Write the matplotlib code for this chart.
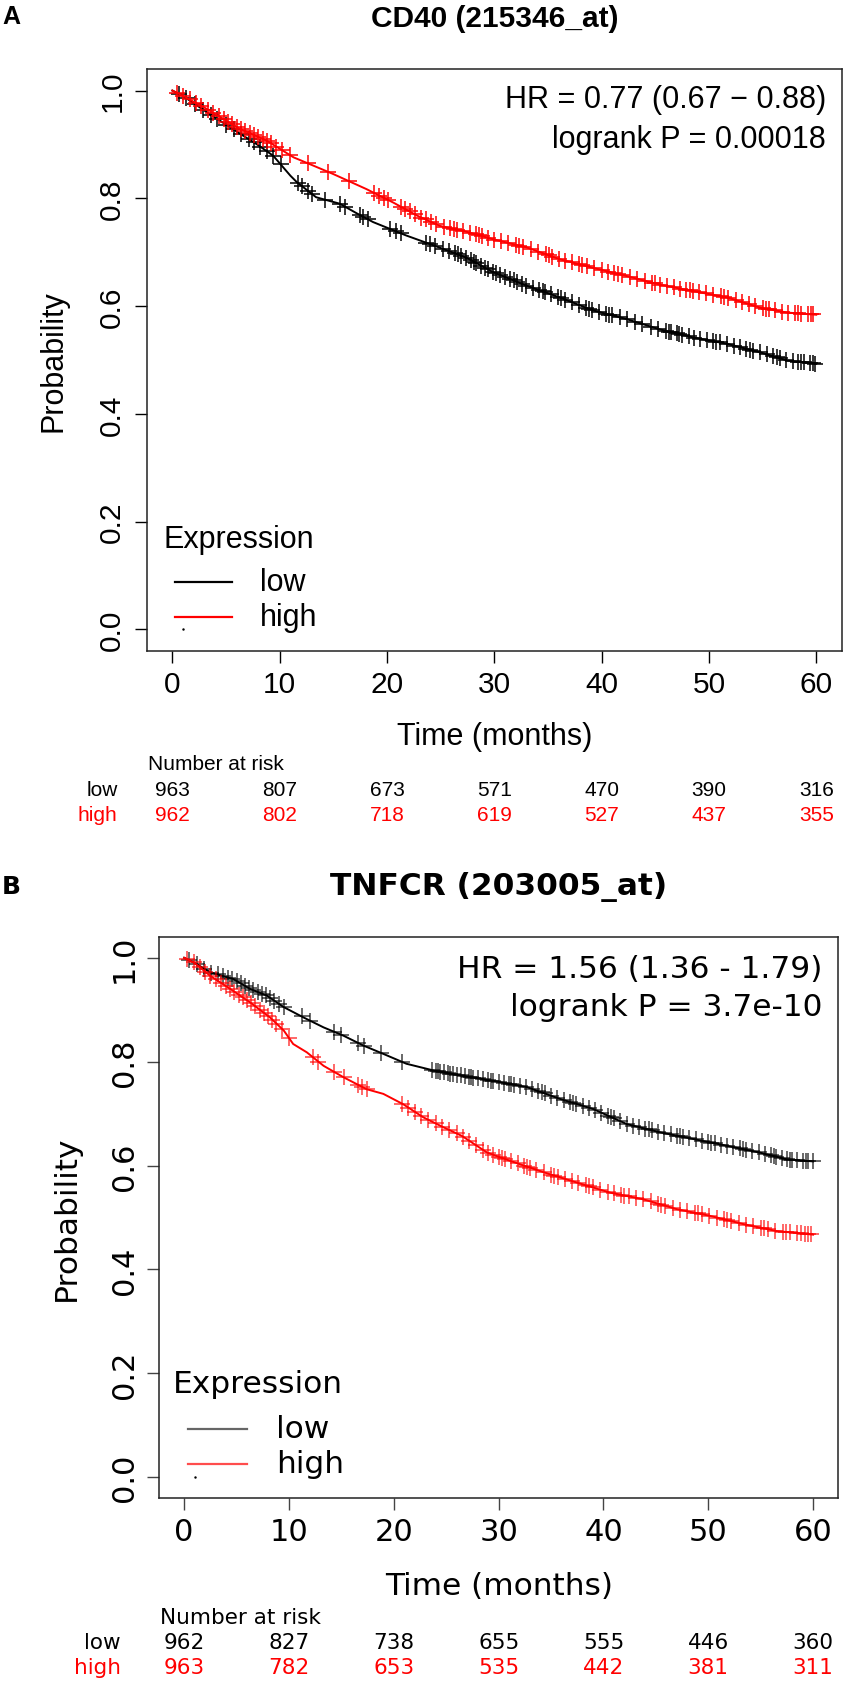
import numpy as np
import matplotlib
matplotlib.use("Agg")
import matplotlib.pyplot as plt
import matplotlib.transforms as mtransforms

W, H = 844, 1683

# ---------------- data: panel A  CD40 (215346_at) ----------------
a_low_t = [0, 1, 3.2, 6.3, 7.9, 9.4, 11.0, 11.6, 13.4, 15.6, 17.2, 18.7, 21.8, 24.3, 27.4,
           29.9, 33.0, 36.1, 39.2, 42.3, 45.4, 48.5, 51.7, 54.8, 57.3, 60.0]
a_low_s = [1.0, 0.99, 0.96, 0.92, 0.90, 0.879, 0.842, 0.830, 0.802, 0.790, 0.772, 0.756, 0.731,
           0.713, 0.690, 0.663, 0.638, 0.616, 0.592, 0.576, 0.557, 0.542, 0.530, 0.514, 0.499, 0.493]
a_high_t = [0, 1, 3.2, 6.3, 8.8, 11.3, 13.1, 15.0, 18.1, 20.6, 22.8, 24.9, 27.4, 29.9, 33.0,
            36.1, 39.2, 42.3, 45.4, 48.5, 51.7, 54.8, 57.3, 60.0]
a_high_s = [1.0, 0.99, 0.966, 0.929, 0.907, 0.876, 0.861, 0.845, 0.817, 0.792, 0.768, 0.749, 0.738,
            0.724, 0.709, 0.687, 0.671, 0.656, 0.640, 0.628, 0.616, 0.597, 0.588, 0.584]
a_low_cens = [0.6, 1.3, 2.1, 2.9, 3.6, 4.2, 5.0, 5.7, 6.4, 7.1, 7.6, 8.2, 8.8, 9.4, 10.1, 11.7, 12.1,
              12.6, 13.0, 14.2, 15.6, 16.1, 17.5, 17.8, 18.2, 20.3, 20.8, 21.3, 23.6, 24.0, 24.5,
              25.2, 25.8, 26.3, 26.6, 26.9, 27.4, 27.8, 28.1, 28.3, 28.8, 29.1, 29.4, 29.9, 30.2,
              30.5, 31.0, 31.5, 31.8, 32.1, 32.6, 33.0, 33.6, 34.2, 34.5, 34.7, 35.3, 35.9, 36.2,
              36.6, 37.2, 37.9, 38.5, 38.8, 39.1, 39.8, 40.4, 40.7, 41.0, 41.7, 42.4, 43.1, 43.8,
              44.6, 45.3, 46.0, 46.3, 46.5, 47.0, 47.2, 47.5, 48.1, 48.6, 49.2, 49.8, 50.4, 50.7,
              51.0, 51.7, 52.3, 52.9, 53.5, 53.8, 54.1, 54.8, 55.4, 56.0, 56.3, 56.6, 57.2, 57.8,
              58.3, 58.6, 58.9, 59.4, 59.7, 59.9]
a_high_cens = [0.4, 1.0, 1.6, 2.2, 2.7, 3.3, 3.8, 4.3, 4.8, 5.2, 5.6, 6.0, 6.4, 6.8, 7.2, 7.6, 8.0,
               8.4, 8.8, 9.2, 9.7, 10.2, 11.0, 12.6, 14.5, 16.5, 18.8, 19.3, 19.7, 20.1, 21.3,
               21.7, 22.1, 22.6, 23.2, 23.6, 24.1, 24.6, 25.3, 25.9, 26.2, 26.5, 27.1, 27.7, 28.3,
               28.6, 28.9, 29.4, 30.0, 30.6, 31.3, 32.0, 32.3, 32.7, 33.4, 34.1, 34.8, 35.1, 35.4,
               36.0, 36.6, 37.2, 37.9, 38.2, 38.6, 39.3, 40.0, 40.6, 41.2, 41.5, 41.9, 42.6, 43.3,
               44.0, 44.7, 45.0, 45.4, 46.1, 46.7, 47.3, 47.9, 48.2, 48.5, 49.1, 49.7, 50.4, 51.1,
               51.4, 51.8, 52.5, 53.1, 53.7, 54.3, 55.0, 55.3, 55.6, 56.2, 56.8, 57.4, 58.0, 58.3,
               58.6, 59.2, 59.5, 59.7]
a_risk_low = [963, 807, 673, 571, 470, 390, 316]
a_risk_high = [962, 802, 718, 619, 527, 437, 355]

# ---------------- data: panel B  TNFCR (203005_at) ----------------
b_low_t = [0, 1, 2.5, 4.7, 6.3, 7.9, 9.5, 11.4, 13.3, 15.2, 17.1, 19.0, 21.2, 23.8, 26.5,
           29.5, 32.7, 35.9, 39.0, 42.2, 45.4, 48.6, 51.8, 54.9, 57.5, 60.0]
b_low_s = [1.0, 0.99, 0.972, 0.959, 0.940, 0.927, 0.905, 0.885, 0.866, 0.850, 0.831, 0.815, 0.796,
           0.783, 0.773, 0.763, 0.751, 0.728, 0.709, 0.680, 0.664, 0.651, 0.638, 0.625, 0.612, 0.608]
b_high_t = [0, 1, 2.5, 4.4, 6.3, 8.2, 9.5, 10.4, 11.7, 13.3, 15.2, 17.4, 19.0, 20.9, 22.8, 24.7,
            26.5, 28.9, 31.1, 34.3, 37.5, 40.6, 43.8, 47.0, 50.2, 53.4, 56.5, 60.0]
b_high_s = [1.0, 0.99, 0.965, 0.940, 0.914, 0.885, 0.860, 0.834, 0.818, 0.792, 0.770, 0.747, 0.738,
            0.718, 0.693, 0.674, 0.657, 0.625, 0.609, 0.587, 0.567, 0.548, 0.535, 0.516, 0.503,
            0.487, 0.474, 0.467]
b_low_cens = [0.5, 1.2, 1.9, 2.6, 3.2, 3.7, 4.2, 4.6, 5.0, 5.4, 5.8, 6.2, 6.6, 7.0, 7.4, 7.8, 8.2,
              8.6, 9.0, 9.5, 11.2, 12.0, 14.3, 15.0, 16.6, 17.2, 18.8, 20.8, 23.6, 24.0, 24.2,
              24.4, 24.8, 25.2, 25.4, 25.6, 26.0, 26.4, 26.8, 27.2, 27.4, 27.6, 28.0, 28.5, 29.0,
              29.3, 29.5, 30.0, 30.5, 31.0, 31.2, 31.5, 32.0, 32.6, 33.2, 33.8, 34.1, 34.4, 35.0,
              35.6, 36.2, 36.8, 37.1, 37.4, 38.0, 38.6, 39.2, 39.8, 40.4, 40.7, 41.0, 41.6, 42.2,
              42.8, 43.4, 44.0, 44.3, 44.6, 45.2, 45.8, 46.4, 47.0, 47.3, 47.6, 48.2, 48.8, 49.4,
              50.0, 50.3, 50.6, 51.2, 51.8, 52.4, 53.0, 53.3, 53.6, 54.2, 54.8, 55.4, 56.0, 56.3,
              56.5, 57.0, 57.5, 57.8, 58.0, 58.5, 59.0, 59.3, 59.5, 60.0]
b_high_cens = [0.3, 0.9, 1.5, 2.0, 2.5, 3.0, 3.5, 4.0, 4.4, 4.8, 5.2, 5.6, 6.0, 6.4, 6.8, 7.2, 7.6,
               8.0, 8.4, 8.8, 9.3, 10.0, 12.3, 12.8, 14.3, 15.2, 16.6, 17.0, 17.4, 20.8, 21.4,
               22.0, 22.6, 23.3, 24.0, 24.6, 25.3, 26.0, 26.6, 27.2, 27.8, 28.5, 29.0, 29.5, 30.0,
               30.3, 30.6, 31.2, 31.8, 32.4, 32.7, 33.0, 33.6, 34.3, 35.0, 35.3, 35.7, 36.3, 37.0,
               37.6, 38.3, 38.6, 39.0, 39.7, 40.4, 41.0, 41.7, 42.0, 42.4, 43.1, 43.8, 44.5, 45.2,
               45.5, 45.9, 46.6, 47.3, 48.0, 48.7, 49.0, 49.4, 50.1, 50.8, 51.5, 51.8, 52.2, 52.9,
               53.6, 54.3, 55.0, 55.3, 55.7, 56.4, 57.1, 57.4, 57.8, 58.5, 58.8, 59.2, 59.5, 59.8]
b_risk_low = [962, 827, 738, 655, 555, 446, 360]
b_risk_high = [963, 782, 653, 535, 442, 381, 311]

risk_times = [0, 10, 20, 30, 40, 50, 60]
y_ticks = [0.0, 0.2, 0.4, 0.6, 0.8, 1.0]

panels = [
    dict(letter="A", title="CD40 (215346_at)", font="Liberation Sans",
         hr="HR = 0.77 (0.67 \u2212 0.88)", p="logrank P = 0.00018",
         low=(a_low_t, a_low_s, a_low_cens), high=(a_high_t, a_high_s, a_high_cens),
         risk_low=a_risk_low, risk_high=a_risk_high,
         box=(146.6, 70, 842, 652), fs=22, tick_fs=21.5, fs_small=15, title_fs=21.5,
         letter_y=17, title_y=19, hr_x=826, hr_y=(100, 140),
         leg_x=164, leg_y=540, leg_line=(175, 232), leg_txt=260, leg_rows=(583, 618),
         leg_low_col="black", leg_high_col="red",
         ylab_x=54, xlab_y=737, nar_y=765, row_lab_x=117.5, rows_y=(791, 816),
         tick_col="black", mark_alpha=1.0),
    dict(letter="B", title="TNFCR (203005_at)", font="DejaVu Sans",
         hr="HR = 1.56 (1.36 - 1.79)", p="logrank P = 3.7e-10",
         low=(b_low_t, b_low_s, b_low_cens), high=(b_high_t, b_high_s, b_high_cens),
         risk_low=b_risk_low, risk_high=b_risk_high,
         box=(159, 938, 838.3, 1499), fs=22.5, tick_fs=22, fs_small=15.5, title_fs=22.5,
         letter_y=887, title_y=887, hr_x=822, hr_y=(970, 1008),
         leg_x=172.5, leg_y=1385, leg_line=(187.6, 247), leg_txt=276, leg_rows=(1430, 1465),
         leg_low_col="#666666", leg_high_col="#ff4d4d",
         ylab_x=66, xlab_y=1587, nar_y=1618, row_lab_x=121, rows_y=(1643, 1668),
         tick_col="#444444", mark_alpha=0.75),
]


def fx(x):
    return x / W


def fy(y):
    return 1 - y / H


fig = plt.figure(figsize=(W / 100, H / 100), dpi=100)
fig.patch.set_facecolor("white")

for pn in panels:
    x0, y0, x1, y1 = pn["box"]
    ax = fig.add_axes([fx(x0), fy(y1), (x1 - x0) / W, (y1 - y0) / H])
    f = pn["font"]

    for (t, s, cens), col in ((pn["low"], "black"), (pn["high"], "red")):
        ax.plot(t, s, color=col, lw=1.4, zorder=3)
        cy = np.interp(cens, t, s)
        ax.plot(cens, cy, ls="none", marker="+", ms=11, mew=1.1, color=col,
                alpha=pn["mark_alpha"], zorder=3)
    ax.plot([1], [0], ls="none", marker=".", ms=1.5, color="black")

    ax.set_xlim(-2.4, 62.4)
    ax.set_ylim(-0.04, 1.04)
    ax.set_xticks(risk_times)
    ax.set_yticks(y_ticks)
    ax.set_yticklabels([f"{v:.1f}" for v in y_ticks], rotation=90, va="center")
    ax.tick_params(direction="out", length=8.6, width=1.0, colors=pn["tick_col"],
                   labelcolor="black", labelsize=pn["tick_fs"])
    ax.tick_params(axis="x", pad=5)
    ax.tick_params(axis="y", pad=6)
    for lab in ax.get_xticklabels() + ax.get_yticklabels():
        lab.set_family(f)
    for sp in ax.spines.values():
        sp.set_linewidth(1.1)
        sp.set_color("#222222")

    # header texts
    fig.text(fx(2), fy(pn["letter_y"]), pn["letter"], ha="left", va="center",
             fontsize=18, fontweight="bold", family=f)
    fig.text(fx((x0 + x1) / 2), fy(pn["title_y"]), pn["title"], ha="center", va="center",
             fontsize=pn["title_fs"], fontweight="bold", family=f)
    fig.text(fx(pn["hr_x"]), fy(pn["hr_y"][0]), pn["hr"], ha="right", va="center",
             fontsize=pn["fs"], family=f)
    fig.text(fx(pn["hr_x"]), fy(pn["hr_y"][1]), pn["p"], ha="right", va="center",
             fontsize=pn["fs"], family=f)

    # legend
    fig.text(fx(pn["leg_x"]), fy(pn["leg_y"]), "Expression", ha="left", va="center",
             fontsize=pn["fs"], family=f)
    for yy, lab, col in zip(pn["leg_rows"], ("low", "high"),
                            (pn["leg_low_col"], pn["leg_high_col"])):
        fig.add_artist(plt.Line2D([fx(pn["leg_line"][0]), fx(pn["leg_line"][1])],
                                  [fy(yy), fy(yy)], color=col, lw=1.6,
                                  transform=fig.transFigure))
        fig.text(fx(pn["leg_txt"]), fy(yy), lab, ha="left", va="center",
                 fontsize=pn["fs"], family=f)

    # axis labels
    fig.text(fx(pn["ylab_x"]), fy((y0 + y1) / 2), "Probability", rotation=90,
             ha="center", va="center", fontsize=pn["fs"], family=f)
    fig.text(fx((x0 + x1) / 2), fy(pn["xlab_y"]), "Time (months)", ha="center",
             va="center", fontsize=pn["fs"], family=f)

    # number at risk table
    fig.text(fx(x0 + 1), fy(pn["nar_y"]), "Number at risk", ha="left", va="center",
             fontsize=pn["fs_small"], family=f)
    trans = mtransforms.blended_transform_factory(ax.transData, fig.transFigure)
    for yy, lab, col, vals in ((pn["rows_y"][0], "low", "black", pn["risk_low"]),
                               (pn["rows_y"][1], "high", "red", pn["risk_high"])):
        fig.text(fx(pn["row_lab_x"]), fy(yy), lab, ha="right", va="center",
                 fontsize=pn["fs_small"], color=col, family=f)
        for tt, v in zip(risk_times, vals):
            ax.text(tt, fy(yy), str(v), transform=trans, ha="center", va="center",
                    fontsize=pn["fs_small"], color=col, family=f, clip_on=False)

fig.savefig("out.png", dpi=100)
